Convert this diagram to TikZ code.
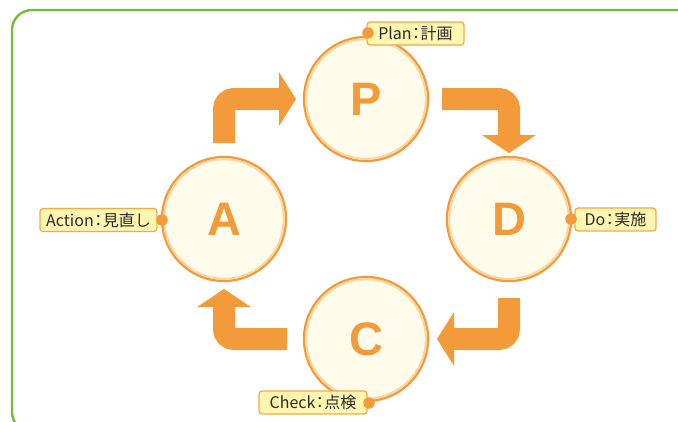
\documentclass[tikz,border=0pt]{standalone}
\usepackage{fontspec}
\setmainfont{Liberation Sans}
\newfontfamily\jpfont{Noto Sans CJK JP}
\usetikzlibrary{calc}
\definecolor{org}{HTML}{F39A3A}
\definecolor{ringc}{HTML}{FAD6A0}
\definecolor{cream}{HTML}{FFFCEB}
\definecolor{lblfill}{HTML}{FFF6B2}
\definecolor{lblline}{HTML}{F4A947}
\definecolor{greenframe}{HTML}{72BD3A}
\definecolor{txt}{HTML}{2B2B2B}
\newcommand\jcolon{\kern-3.5pt：\kern-3.5pt}
\begin{document}
\begin{tikzpicture}[x=1pt,y=-1pt,
 stage/.style={circle, draw=org, line width=2.3pt, fill=cream, minimum size=124pt, inner sep=0pt, outer sep=0pt, text=org, font=\fontsize{47}{47}\selectfont\bfseries},
 ringline/.style={draw=ringc, line width=2pt},
 stem/.style={draw=org, line width=22pt, rounded corners=10pt},
 lbl/.style={draw=lblline, fill=lblfill, line width=1.2pt, rounded corners=3pt, minimum height=23pt, inner sep=0pt, text=txt, font=\jpfont\fontsize{16}{16}\selectfont},
 dot/.style={circle, fill=org, minimum size=11.5pt, inner sep=0pt}]
\useasboundingbox (0,0) rectangle (678,421);
\draw[greenframe, line width=2.4pt, rounded corners=20pt] (12,10) rectangle (720,432);
% stages
\node[stage] (P) at (366,99) {P};
\node[stage] (A) at (224,219) {A};
\node[stage] (D) at (509,219) {D};
\node[stage] (C) at (366,339) {C};
\foreach \n in {P,A,D,C} \draw[ringline] (\n.center) circle (59.8);
% arrows
\draw[stem] ($(A.north)+(0,-14)$) |- ($(P.west)+(-24,0)$);
\fill[org] ($(P.west)+(-25,-27)$) -- ($(P.west)+(-8,0)$) -- ($(P.west)+(-25,27)$) -- cycle;
\draw[stem] ($(P.east)+(14,0)$) -| ($(D.north)+(0,-21)$);
\fill[org] ($(D.north)+(-27,-22)$) -- ($(D.north)+(0,-4)$) -- ($(D.north)+(27,-22)$) -- cycle;
\draw[stem] ($(D.south)+(0,17)$) |- ($(C.east)+(25,0)$);
\fill[org] ($(C.east)+(26,-27)$) -- ($(C.east)+(9,0)$) -- ($(C.east)+(26,27)$) -- cycle;
\draw[stem] ($(C.west)+(-17,0)$) -| ($(A.south)+(0,25)$);
\fill[org] ($(A.south)+(-27,26)$) -- ($(A.south)+(0,8)$) -- ($(A.south)+(27,26)$) -- cycle;
% labels
\node[lbl, minimum width=97pt] (pl) at (415.5,33.5) {Plan\jcolon 計画};
\node[lbl, minimum width=117pt] (al) at (98.5,220) {Action\jcolon 見直し};
\node[lbl, minimum width=81pt] (dl) at (615.5,219.5) {Do\jcolon 実施};
\node[lbl, minimum width=108pt] (cl) at (313,402.5) {Check\jcolon 点検};
\node[dot] (pd) at (368,33) {};
\node[dot] (ad) at (162,220) {};
\node[dot] (dd) at (571,219) {};
\node[dot] (cd) at (369,403) {};
\end{tikzpicture}
\end{document}
